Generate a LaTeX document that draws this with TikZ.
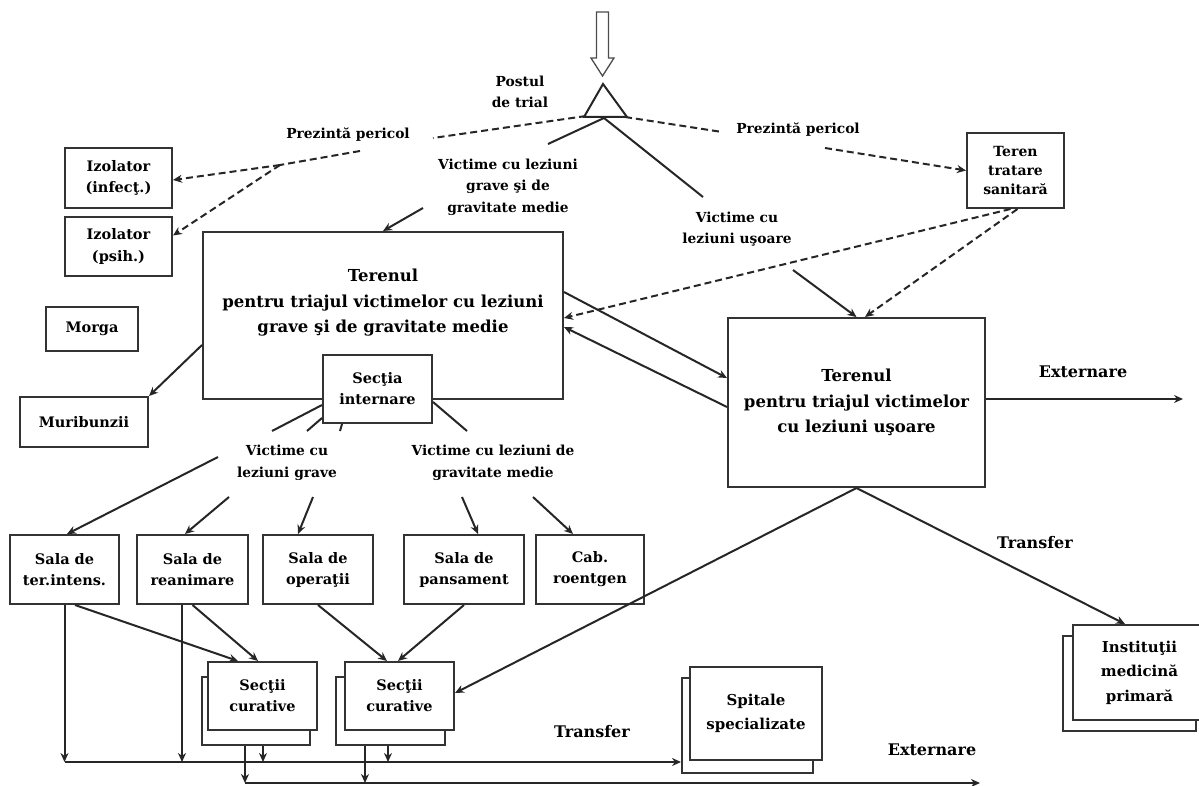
\documentclass[tikz,border=0pt]{standalone}
\usepackage{fontspec}
\setmainfont{DejaVu Serif}
\usetikzlibrary{arrows.meta,calc}
\newcommand\fBox{\bfseries\fontsize{14.5}{21}\selectfont}
\newcommand\fSm{\bfseries\fontsize{14}{19}\selectfont}
\newcommand\fLbl{\bfseries\fontsize{13.8}{21.5}\selectfont}
\newcommand\fBig{\bfseries\fontsize{16.5}{25.5}\selectfont}
\newcommand\fInst{\bfseries\fontsize{15}{24.5}\selectfont}
\newcommand\fXl{\bfseries\fontsize{16}{20}\selectfont}
\begin{document}
\begin{tikzpicture}[x=1pt,y=-1pt,
  bx/.style 2 args={draw=black!80, line width=2pt, fill=white, inner sep=0pt, align=center, font=\fBox, minimum width=#1pt, minimum height=#2pt},
  lbl/.style={align=center, inner sep=0pt, font=\fLbl},
  ln/.style={line width=2pt, draw=black!85},
  arr/.style={ln, -{Stealth[length=9pt,width=8pt]}},
  dsh/.style={ln, dash pattern=on 7pt off 4pt},
  darr/.style={arr, dash pattern=on 7pt off 4pt},
]
\useasboundingbox (0,0) rectangle (1199,786);

% entry arrow and triage post
\draw[line width=1.3pt, draw=black!70, fill=white] (596.5,12) -- (608.5,12) -- (608.5,58) -- (614,58) -- (602.5,76) -- (591,58) -- (596.5,58) -- cycle;
\draw[line width=2pt, draw=black!85] (584,117) -- (603,84) -- (627,117) -- cycle;
\coordinate (tb) at (604,118);
\coordinate (tbl) at (586,116);
\coordinate (tbr) at (625,117);
\node[lbl] (postul) at (520,92) {Postul\\de trial};

% boxes
\node[bx={107}{60}] (izinf) at (118.5,178) {Izolator\\(infecţ.)};
\node[bx={107}{59}] (izpsih) at (118.5,246.5) {Izolator\\(psih.)};
\node[bx={92}{44}] (morga) at (92,329) {Morga};
\node[bx={128}{50}] (murib) at (84,422) {Muribunzii};
\node[bx={360}{167}] (t1) at (383,315.5) {};
\node[font=\fBig, align=center, inner sep=0pt] (t1txt) at (383,303) {Terenul\\pentru triajul victimelor cu leziuni\\grave şi de gravitate medie};
\node[bx={109}{68}] (sect) at (377.5,389) {Secţia\\internare};
\node[bx={97}{75}, font=\fSm] (teren) at (1015.5,170.5) {Teren\\tratare\\sanitară};
\node[bx={257}{169}, font=\fBig] (t2) at (856.5,402.5) {Terenul\\pentru triajul victimelor\\cu leziuni uşoare};

\node[bx={109}{69}] (sti) at (64.5,569.5) {Sala de\\ter.intens.};
\node[bx={111}{69}] (srean) at (192.5,569.5) {Sala de\\reanimare};
\node[bx={110}{69}] (sop) at (318,569.5) {Sala de\\operaţii};
\node[bx={120}{69}] (spans) at (464,569.5) {Sala de\\pansament};
\node[bx={108}{69}] (cab) at (590,569.5) {Cab.\\roentgen};

\node[bx={108}{68}] (sec1b) at (256,711) {};
\node[bx={109}{68}] (sec1) at (262.5,696) {Secţii\\curative};
\node[bx={109}{68}] (sec2b) at (390.5,711) {};
\node[bx={109}{68}] (sec2) at (399.5,696) {Secţii\\curative};

\node[bx={131}{95}] (spitb) at (747.5,725.5) {};
\node[bx={132}{93}, font=\fInst] (spit) at (756,713.5) {Spitale\\specializate};

\node[bx={133}{95}] (instb) at (1129.5,683.5) {};
\node[bx={133}{95}, font=\fInst] (inst) at (1139.5,672.5) {Instituţii\\medicină\\primară};

% labels
\node[lbl] (pl) at (348,135) {Prezintă pericol};
\node[lbl] (pr) at (798,130) {Prezintă pericol};
\node[lbl] (vgm) at (508,187) {Victime cu leziuni\\grave şi de\\gravitate medie};
\node[lbl] (vus) at (737,229) {Victime cu\\leziuni uşoare};
\node[lbl] (vgr) at (287,463) {Victime cu\\leziuni grave};
\node[lbl] (vmed) at (493,463) {Victime cu leziuni de\\gravitate medie};
\node[font=\fXl] (ext1) at (1083,372) {Externare};
\node[font=\fXl] (tr1) at (1035,543) {Transfer};
\node[font=\fXl] (tr2) at (592,732) {Transfer};
\node[font=\fXl] (ext2) at (932,750) {Externare};

% danger (dashed) connectors
\coordinate (pl1) at (433,138);
\coordinate (pl2) at (360,151);
\coordinate (br) at (280,165);
\draw[dsh] (tbl) -- (pl1);
\draw[dsh] (pl2) -- (br);
\draw[darr] (br) -- ([yshift=-2pt]izinf.east);
\draw[darr] (br) -- ([yshift=11pt]izpsih.east);
\coordinate (pr1) at (722,132);
\coordinate (pr2) at (825,148);
\draw[dsh] (tbr) -- (pr1);
\draw[darr] (pr2) -- (teren.west);
\draw[darr] ([xshift=-5pt]teren.south) -- ([yshift=-2.5pt]t1.east);
\draw[darr] ([xshift=2pt]teren.south) -- ([xshift=8.5pt]t2.north);

% triage branches
\coordinate (vg1) at (548,144);
\coordinate (vg2) at (423,208);
\draw[ln] (tb) -- (vg1);
\draw[arr] (vg2) -- (t1.north);
\coordinate (vu1) at (703,197);
\coordinate (vu2) at (793,270);
\draw[ln] (tb) -- (vu1);
\draw[arr] (vu2) -- (t2.north);

\draw[arr] ([yshift=23.5pt]t1.east) -- ([yshift=24.5pt]t2.west);
\draw[arr] ([yshift=-4.5pt]t2.west) -- ([yshift=-11.5pt]t1.east);
\coordinate (e1) at (1183,399);
\draw[arr] ([yshift=3.5pt]t2.east) -- (e1);
\draw[arr] ([yshift=-29.5pt]t1.west) -- (murib.north east);

% from Sectia internare
\coordinate (s1) at (272,431);
\coordinate (s2) at (307,431);
\coordinate (s3) at (340,431);
\coordinate (s4) at (467,431);
\draw[ln] ([yshift=-16pt]sect.west) -- (s1);
\draw[ln] ([yshift=-29pt]sect.west) -- (s2);
\draw[ln] ([xshift=20pt]sect.south west) -- (s3);
\draw[ln] ([yshift=-13pt]sect.east) -- (s4);

% to halls
\coordinate (g1) at (218,457);
\coordinate (g2) at (229,497);
\coordinate (g3) at (313,497);
\coordinate (m1) at (462,497);
\coordinate (m2) at (533,497);
\draw[arr] (g1) -- ([xshift=2.5pt]sti.north);
\draw[arr] (g2) -- ([xshift=-7.5pt]srean.north);
\draw[arr] (g3) -- ([xshift=-20pt]sop.north);
\draw[arr] (m1) -- ([xshift=14pt]spans.north);
\draw[arr] (m2) -- ([xshift=-17pt]cab.north);

% halls to curative sections
\draw[arr] ([xshift=10.5pt]sti.south) -- ([xshift=-24.5pt]sec1.north);
\draw[arr] (srean.south) -- ([xshift=-4.5pt]sec1.north);
\draw[arr] (sop.south) -- ([xshift=-12.5pt]sec2.north);
\draw[arr] (spans.south) -- ([xshift=-1.5pt]sec2.north);
\draw[arr] (t2.south) -- ([yshift=3pt]sec2.east);
\draw[arr] (t2.south) -- ([xshift=-14.5pt]inst.north);

% bottom lines
\coordinate (L1) at (64.5,762);
\coordinate (L2) at (245,783);
\coordinate (e2) at (980,783);
\coordinate (rs) at ($(srean.south)+(-10.5,0)$);
\draw[arr] (sti.south) -- (sti.south |- L1);
\draw[arr] (rs) -- (rs |- L1);
\draw[arr] (L1) -- (spitb.west |- L1);
\draw[arr] (L2) -- (e2);
\coordinate (c1) at ($(sec1b.south)+(-11,0)$);
\coordinate (c2) at ($(sec1b.south)+(7,0)$);
\coordinate (c3) at ($(sec2b.south)+(-25.5,0)$);
\coordinate (c4) at ($(sec2b.south)+(-2.5,0)$);
\draw[arr] (c1) -- (c1 |- L2);
\draw[arr] (c2) -- (c2 |- L1);
\draw[arr] (c3) -- (c3 |- L2);
\draw[arr] (c4) -- (c4 |- L1);
\end{tikzpicture}
\end{document}
